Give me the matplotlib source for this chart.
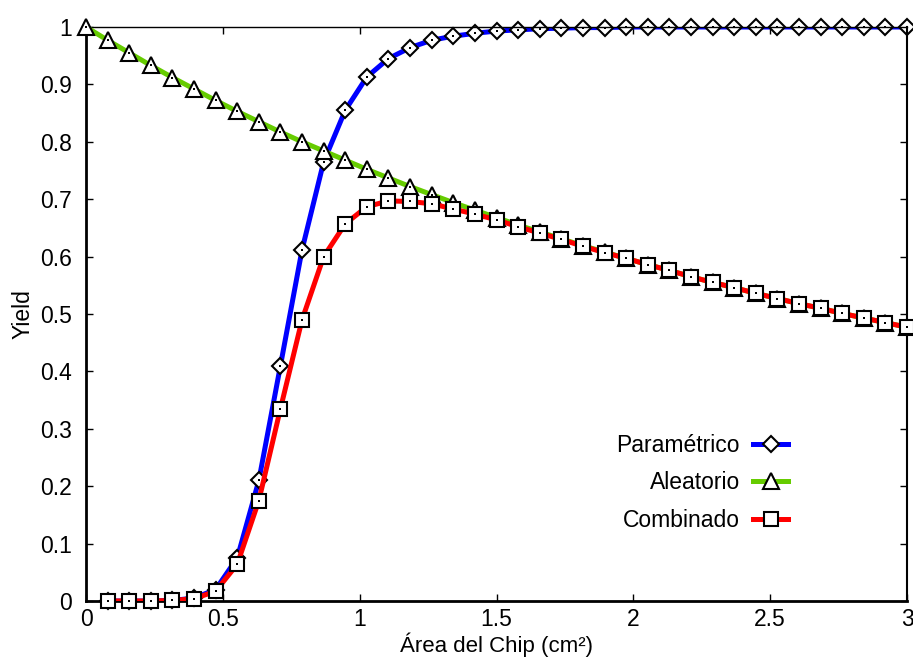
import numpy as np
import matplotlib
matplotlib.use("Agg")
import matplotlib.pyplot as plt
from matplotlib.ticker import FuncFormatter

plt.rcParams['font.family'] = ['Liberation Sans', 'DejaVu Sans']

# =============================
# DATA
# =============================

# chip area samples, 39 points from 0 to 3
area = np.linspace(0, 3, 39)

aleatorio = [1.000, 0.977, 0.955, 0.933, 0.912, 0.892, 0.872, 0.853, 0.835,
             0.817, 0.800, 0.784, 0.768, 0.752, 0.737, 0.722, 0.708, 0.694,
             0.681, 0.668, 0.655, 0.643, 0.631, 0.619, 0.608, 0.597, 0.586,
             0.576, 0.565, 0.555, 0.546, 0.536, 0.527, 0.518, 0.510, 0.501,
             0.493, 0.485, 0.477]

# parametric yield is not defined at area 0, starts at second sample
parametrico = [0.000, 0.000, 0.000, 0.001, 0.005, 0.020, 0.075, 0.210, 0.410,
               0.612, 0.765, 0.855, 0.913, 0.945, 0.964, 0.977, 0.984, 0.989,
               0.993, 0.995, 0.997, 0.998, 0.999, 0.999, 1.000, 1.000, 1.000,
               1.000, 1.000, 1.000, 1.000, 1.000, 1.000, 1.000, 1.000, 1.000,
               1.000, 1.000]

combinado = [0.000, 0.000, 0.000, 0.001, 0.004, 0.017, 0.064, 0.175, 0.335,
             0.490, 0.600, 0.657, 0.687, 0.697, 0.696, 0.692, 0.683, 0.674,
             0.664, 0.652, 0.641, 0.630, 0.618, 0.607, 0.597, 0.586, 0.576,
             0.565, 0.555, 0.546, 0.536, 0.527, 0.518, 0.510, 0.501, 0.493,
             0.485, 0.477]

area_p = area[1:]

# =============================
# PLOTTING
# =============================

fig = plt.figure(figsize=(9.13, 6.6), dpi=100)
ax = fig.add_axes([86/913, 1 - 601/660, 821/913, 574/660])

lw = 3.6
fs = 16.5

def series(x, y, color, marker, ms, label, z):
    ax.plot(x, y, color=color, lw=lw, zorder=z, solid_capstyle='butt')
    ax.plot(x, y, ls='none', marker=marker, ms=ms, mfc='white', mec='black',
            mew=1.5, zorder=z + 0.5, clip_on=False)
    ax.plot(x, y, ls='none', marker='s', ms=1.6, mfc='black', mec='black',
            mew=0, zorder=z + 0.6, clip_on=False)
    # legend handle
    ax.plot([], [], color=color, lw=lw, marker=marker, ms=ms, mfc='white',
            mec='black', mew=1.5, label=label)

series(area_p, parametrico, '#0000ff', 'D', 8, 'Paramétrico', 2)
series(area, aleatorio, '#66cc00', '^', 11, 'Aleatorio', 3)
series(area_p, combinado, '#ff0000', 's', 10, 'Combinado', 4)

ax.set_xlim(0, 3)
ax.set_ylim(0, 1)
ax.set_xticks([0, 0.5, 1, 1.5, 2, 2.5, 3])
ax.set_yticks(np.arange(0, 1.01, 0.1))
fmt = FuncFormatter(lambda v, p: '%g' % round(v, 2))
ax.xaxis.set_major_formatter(fmt)
ax.yaxis.set_major_formatter(fmt)
ax.tick_params(direction='in', length=5, width=1, top=True, right=True,
               labelsize=fs, pad=10)
ax.tick_params(axis='x', pad=5)

ax.spines['left'].set_linewidth(2)
ax.spines['bottom'].set_linewidth(2)
ax.spines['top'].set_linewidth(1)
ax.spines['right'].set_linewidth(1.5)

ax.set_xlabel('Área del Chip (cm²)', fontsize=16, labelpad=1)
ax.set_ylabel('Yield', fontsize=fs, labelpad=4)

ax.legend(loc='lower right', bbox_to_anchor=(0.88, 0.085), frameon=False,
          markerfirst=False, fontsize=fs, handlelength=1.5,
          labelspacing=0.62, handletextpad=0.6)

fig.savefig('out.png', dpi=100)
